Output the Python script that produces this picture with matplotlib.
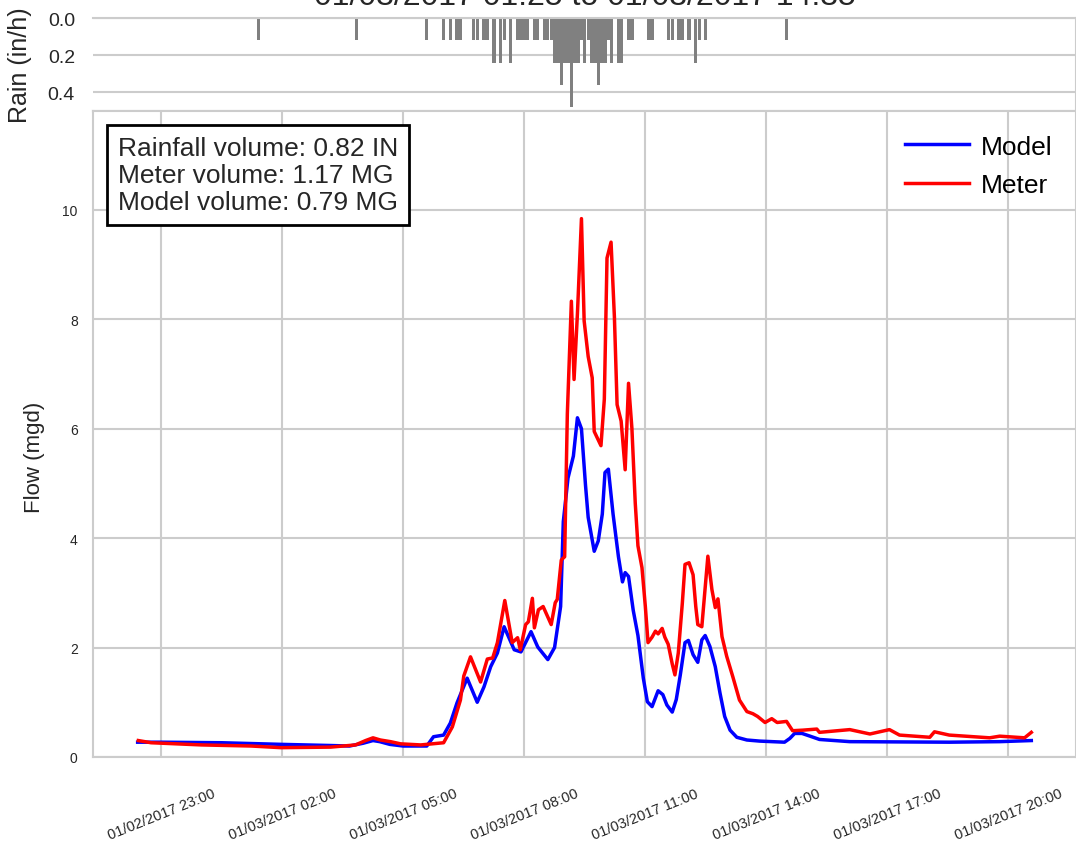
import pandas as pd
import matplotlib
matplotlib.use("Agg")
import matplotlib.pyplot as plt
import matplotlib.dates as mdates

plt.rcParams['font.family'] = ['Liberation Sans', 'DejaVu Sans']

# rainfall (in/h), 5-minute intervals on 01/03/2017
rain_times = ["01:25", "03:50", "05:35", "06:00", "06:10", "06:20", "06:25", "06:45", "06:50",
              "07:00", "07:05", "07:15", "07:25", "07:30", "07:40", "07:50", "07:55", "08:00",
              "08:05", "08:15", "08:20", "08:30", "08:35", "08:40", "08:45", "08:50", "08:55",
              "09:00", "09:05", "09:10", "09:15", "09:20", "09:25", "09:30", "09:35", "09:40",
              "09:45", "09:50", "09:55", "10:00", "10:05", "10:10", "10:20", "10:25", "10:35",
              "10:40", "11:05", "11:10", "11:35", "11:40", "11:50", "11:55", "12:05", "12:15",
              "12:20", "12:30", "14:30"]
rain_vals = [0.12, 0.12, 0.12, 0.12, 0.12, 0.12, 0.12, 0.12, 0.12,
             0.12, 0.12, 0.24, 0.24, 0.12, 0.24, 0.12, 0.12, 0.12,
             0.12, 0.12, 0.12, 0.12, 0.12, 0.12, 0.24, 0.24, 0.36,
             0.24, 0.24, 0.48, 0.24, 0.24, 0.12, 0.24, 0.12, 0.24,
             0.24, 0.36, 0.24, 0.24, 0.12, 0.24, 0.24, 0.24, 0.12,
             0.12, 0.12, 0.12, 0.12, 0.12, 0.12, 0.12, 0.12, 0.24,
             0.12, 0.12, 0.12]

# model flow (mgd), starting 01/02/2017
model_times = ["22:25", "23:00", "00:30", "02:00", "03:10", "03:40", "04:00", "04:15", "04:25",
               "04:40", "05:00", "05:35", "05:45", "06:00", "06:10", "06:20", "06:35", "06:50",
               "07:00", "07:10", "07:20", "07:30", "07:45", "07:55", "08:10", "08:20", "08:35",
               "08:45", "08:54", "08:58", "09:05", "09:13", "09:19", "09:25", "09:31", "09:35",
               "09:44", "09:50", "09:56", "10:00", "10:05", "10:12", "10:20", "10:26", "10:30",
               "10:35", "10:42", "10:49", "10:57", "11:03", "11:10", "11:19", "11:26", "11:32",
               "11:40", "11:46", "11:52", "11:59", "12:04", "12:11", "12:18", "12:24", "12:29",
               "12:36", "12:44", "12:51", "12:58", "13:06", "13:16", "13:31", "13:50", "14:27",
               "14:35", "14:42", "14:53", "15:05", "15:19", "16:04", "18:32", "19:47", "20:34"]
model_vals = [0.27, 0.27, 0.26, 0.23, 0.21, 0.20, 0.25, 0.30, 0.28,
              0.23, 0.20, 0.20, 0.37, 0.40, 0.62, 0.99, 1.44, 1.00,
              1.28, 1.65, 1.90, 2.38, 1.96, 1.92, 2.29, 2.01, 1.78,
              2.00, 2.75, 4.30, 5.10, 5.50, 6.20, 6.00, 4.97, 4.38,
              3.76, 3.95, 4.44, 5.20, 5.26, 4.44, 3.66, 3.20, 3.37,
              3.30, 2.68, 2.22, 1.44, 1.01, 0.92, 1.21, 1.14, 0.95,
              0.82, 1.05, 1.50, 2.09, 2.13, 1.87, 1.73, 2.14, 2.22,
              2.02, 1.65, 1.17, 0.74, 0.49, 0.36, 0.31, 0.29, 0.27,
              0.34, 0.43, 0.43, 0.38, 0.32, 0.28, 0.27, 0.28, 0.30]

# meter flow (mgd), starting 01/02/2017
meter_times = ["22:26", "22:45", "00:00", "01:14", "01:58", "03:12", "03:49", "04:04", "04:15",
               "04:26", "04:41", "04:56", "05:26", "06:00", "06:13", "06:25", "06:30", "06:40",
               "06:55", "07:05", "07:13", "07:20", "07:31", "07:42", "07:50", "07:54", "08:02",
               "08:06", "08:12", "08:15", "08:21", "08:28", "08:40", "08:46", "08:49", "08:55",
               "09:00", "09:04", "09:10", "09:14", "09:19", "09:25", "09:29", "09:35", "09:41",
               "09:44", "09:54", "09:59", "10:03", "10:09", "10:14", "10:18", "10:24", "10:30",
               "10:35", "10:40", "10:45", "10:49", "10:55", "11:00", "11:04", "11:10", "11:15",
               "11:19", "11:25", "11:29", "11:34", "11:40", "11:44", "11:49", "11:55", "11:59",
               "12:05", "12:11", "12:15", "12:18", "12:24", "12:33", "12:39", "12:44", "12:48",
               "12:54", "13:01", "13:10", "13:20", "13:31", "13:40", "13:47", "13:58", "14:08",
               "14:16", "14:30", "14:39", "14:54", "15:15", "15:19", "16:04", "16:34", "17:03",
               "17:18", "18:03", "18:10", "18:32", "19:32", "19:47", "20:24", "20:34"]
meter_vals = [0.30, 0.26, 0.22, 0.20, 0.17, 0.18, 0.22, 0.30, 0.35,
              0.31, 0.28, 0.24, 0.22, 0.26, 0.55, 1.04, 1.48, 1.83,
              1.37, 1.79, 1.81, 2.09, 2.86, 2.09, 2.18, 1.96, 2.42,
              2.47, 2.90, 2.36, 2.69, 2.75, 2.42, 2.82, 2.88, 3.60,
              3.66, 6.27, 8.33, 6.90, 8.10, 9.84, 7.97, 7.32, 6.93,
              5.95, 5.69, 6.54, 9.12, 9.41, 8.04, 6.44, 6.14, 5.25,
              6.83, 6.01, 4.64, 3.86, 3.46, 2.75, 2.09, 2.19, 2.30,
              2.25, 2.35, 2.19, 2.06, 1.70, 1.50, 1.90, 2.81, 3.52,
              3.55, 3.33, 2.75, 2.42, 2.38, 3.67, 3.06, 2.73, 2.89,
              2.20, 1.84, 1.47, 1.04, 0.83, 0.79, 0.74, 0.63, 0.70,
              0.63, 0.65, 0.48, 0.49, 0.51, 0.45, 0.50, 0.42, 0.50,
              0.40, 0.36, 0.46, 0.40, 0.35, 0.38, 0.35, 0.45]

title = "01/03/2017 01:25 to 01/03/2017 14:35"
summary = "Rainfall volume: 0.82 IN\nMeter volume: 1.17 MG\nModel volume: 0.79 MG"


def to_times(hhmm, start_day):
    # turn HH:MM strings into timestamps, rolling to the next day when time goes back
    day = pd.Timestamp(start_day)
    out = []
    prev = None
    for s in hhmm:
        t = day + pd.Timedelta(hours=int(s[:2]), minutes=int(s[3:]))
        if prev is not None and t < prev:
            day += pd.Timedelta(days=1)
            t += pd.Timedelta(days=1)
        out.append(t)
        prev = t
    return pd.DatetimeIndex(out)


rain_t = to_times(rain_times, "2017-01-03")
model_t = to_times(model_times, "2017-01-02")
meter_t = to_times(meter_times, "2017-01-02")

grid_c = "#cccccc"
txt_c = "#262626"
fig = plt.figure(figsize=(10.76, 8.45), dpi=100)
ax_rain = fig.add_axes([0.0864, 0.8675, 0.9136, 0.110])
ax = fig.add_axes([0.0864, 0.1030, 0.9136, 0.7645], sharex=ax_rain)

for a in (ax, ax_rain):
    a.set_facecolor("white")
    for sp in a.spines.values():
        sp.set_color(grid_c)
        sp.set_linewidth(1.5)

# main flow plot
ax.plot(model_t, model_vals, color="blue", lw=2.5, label="Model")
ax.plot(meter_t, meter_vals, color="red", lw=2.5, label="Meter")
ax.set_ylim(0, max(meter_vals) * 1.2)
ax.set_yticks([0, 2, 4, 6, 8, 10])
ax.grid(True, color=grid_c, lw=1.5)
ax.set_axisbelow(True)
ax.xaxis.set_major_locator(mdates.HourLocator(byhour=[23, 2, 5, 8, 11, 14, 17, 20]))
ax.xaxis.set_major_formatter(mdates.DateFormatter("%m/%d/%Y %H:%M"))
ax.tick_params(axis="y", length=0, pad=11, labelsize=10, colors=txt_c)
ax.tick_params(axis="x", length=0, pad=21, labelsize=10.5, colors=txt_c)
plt.setp(ax.get_xticklabels(), rotation=22, ha="center")
ax.set_ylabel("Flow (mgd)", fontsize=16, color=txt_c)
ax.yaxis.set_label_coords(-0.049, 0.465)
ax.legend(loc="upper right", frameon=False, fontsize=19, handlelength=2.4,
          handletextpad=0.45, labelspacing=0.55)
ax.text(0.0254, 0.962, summary, transform=ax.transAxes, va="top", ha="left",
        fontsize=19, color=txt_c, linespacing=1.17,
        bbox=dict(boxstyle="square,pad=0.4", fc="white", ec="black", lw=2))

# rain hyetograph on top, inverted
ax_rain.bar(rain_t, rain_vals, width=4.8 / 1440, color="gray", align="center")
ax_rain.set_ylim(0.5, 0)
ax_rain.set_yticks([0.0, 0.2, 0.4])
ax_rain.set_yticklabels(["0.0", "0.2", "0.4"])
ax_rain.grid(True, axis="y", color=grid_c, lw=1.5)
ax_rain.grid(False, axis="x")
ax_rain.set_axisbelow(True)
ax_rain.spines["left"].set_visible(False)
ax_rain.tick_params(axis="x", length=0, labelbottom=False)
ax_rain.tick_params(axis="y", length=0, pad=13, labelsize=14, colors=txt_c)
ax_rain.set_ylabel("Rain (in/h)", fontsize=18, color=txt_c)
ax_rain.yaxis.set_label_coords(-0.062, 0.5)

fig.text(0.0864 + 0.9136 / 2, 0.9935, title, ha="center", va="baseline",
         fontsize=23, color=txt_c)

fig.savefig("out.png", dpi=100)
